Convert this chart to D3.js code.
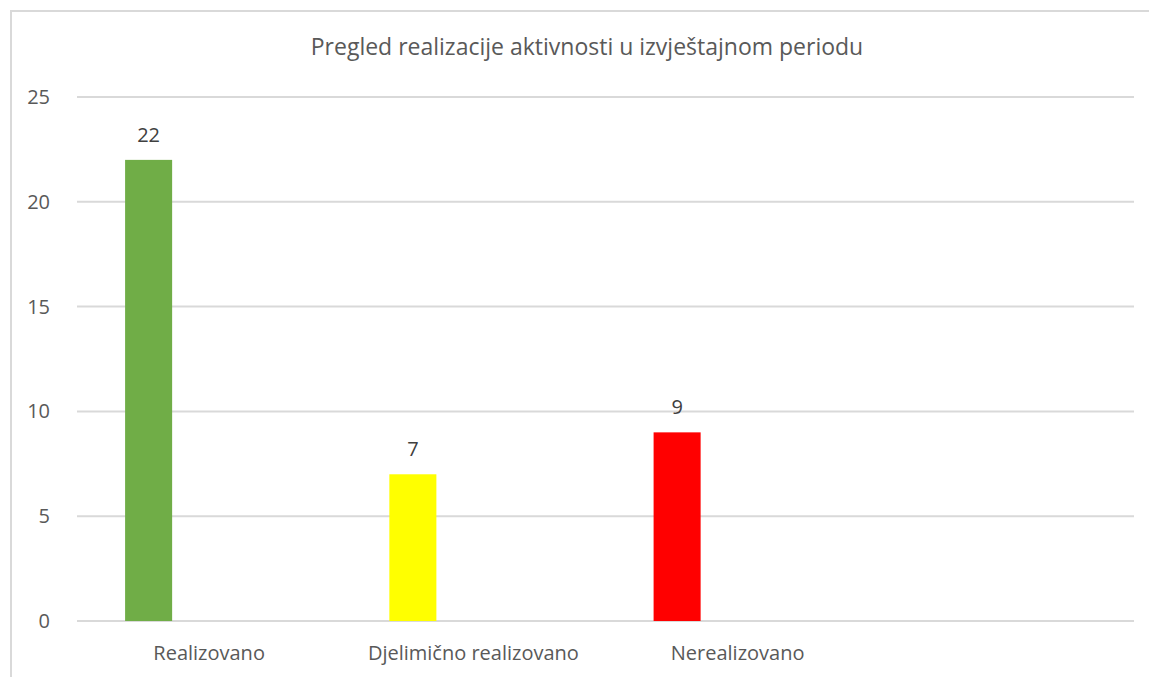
<!DOCTYPE html>
<html>
<head>
<meta charset="utf-8">
<script src="https://cdn.jsdelivr.net/npm/d3@7"></script>
<style>
  body { margin: 0; background: #fff; }
  svg text { font-family: "Open Sans", sans-serif; }
</style>
</head>
<body>
<div id="vis"></div>
<script>
// chart data
var title      = "Pregled realizacije aktivnosti u izvještajnom periodu";
var categories = ["Realizovano", "Djelimično realizovano", "Nerealizovano", ""];
var values     = [22, 7, 9, null];
var barColors  = ["#70AD47", "#FFFF00", "#FF0000", "#FFFFFF"];
var yTicks     = [0, 5, 10, 15, 20, 25];

var W = 1149, H = 677;
var margin = { top: 97, right: 15, bottom: 56, left: 77 },
    width  = W - margin.left - margin.right,
    height = H - margin.top - margin.bottom;

var svg = d3.select("#vis")
  .append("svg")
  .attr("width", W)
  .attr("height", H);

// outer frame (only top + left visible in the crop)
svg.append("path")
  .attr("d", "M11,677V11H1149")
  .attr("fill", "none")
  .attr("stroke", "#d9d9d9")
  .attr("stroke-width", 2);

svg.append("text")
  .attr("x", 587)
  .attr("y", 55)
  .attr("text-anchor", "middle")
  .style("font-size", "23px")
  .style("fill", "#595959")
  .text(title);

var g = svg.append("g")
  .attr("transform", "translate(" + margin.left + "," + margin.top + ")");

var x = d3.scaleBand()
  .domain(categories)
  .range([0, width])
  .padding(0);

var y = d3.scaleLinear()
  .domain([0, 25])
  .range([height, 0]);

////////// grid + y labels //////////
g.selectAll(".grid")
  .data(yTicks)
  .enter()
  .append("line")
  .attr("class", "grid")
  .attr("x1", 0)
  .attr("x2", width)
  .attr("y1", function (d) { return y(d); })
  .attr("y2", function (d) { return y(d); })
  .attr("stroke", "#d9d9d9")
  .attr("stroke-width", 2);

g.selectAll(".ylab")
  .data(yTicks)
  .enter()
  .append("text")
  .attr("class", "ylab")
  .attr("x", -27)
  .attr("y", function (d) { return y(d); })
  .attr("dy", "0.35em")
  .attr("text-anchor", "end")
  .style("font-size", "20px")
  .style("fill", "#595959")
  .text(function (d) { return d; });

////////// bars //////////
var barOff = x.bandwidth() * 0.182,
    barW   = x.bandwidth() * 0.178;

var rows = categories.map(function (c, i) { return { cat: c, v: values[i], col: barColors[i] }; })
  .filter(function (d) { return d.v != null; });

g.selectAll(".bar")
  .data(rows)
  .enter()
  .append("rect")
  .attr("class", "bar")
  .attr("x", function (d) { return x(d.cat) + barOff; })
  .attr("width", barW)
  .attr("y", function (d) { return y(d.v); })
  .attr("height", function (d) { return height - y(d.v); })
  .attr("fill", function (d) { return d.col; });

g.selectAll(".vlab")
  .data(rows)
  .enter()
  .append("text")
  .attr("class", "vlab")
  .attr("x", function (d) { return x(d.cat) + barOff + barW / 2; })
  .attr("y", function (d) { return y(d.v) - 18; })
  .attr("text-anchor", "middle")
  .style("font-size", "20px")
  .style("fill", "#404040")
  .text(function (d) { return d.v; });

////////// x labels //////////
g.selectAll(".xlab")
  .data(categories)
  .enter()
  .append("text")
  .attr("class", "xlab")
  .attr("x", function (d) { return x(d) + x.bandwidth() / 2; })
  .attr("y", height + 39)
  .attr("text-anchor", "middle")
  .style("font-size", "20px")
  .style("fill", "#595959")
  .text(function (d) { return d; });
</script>
</body>
</html>
